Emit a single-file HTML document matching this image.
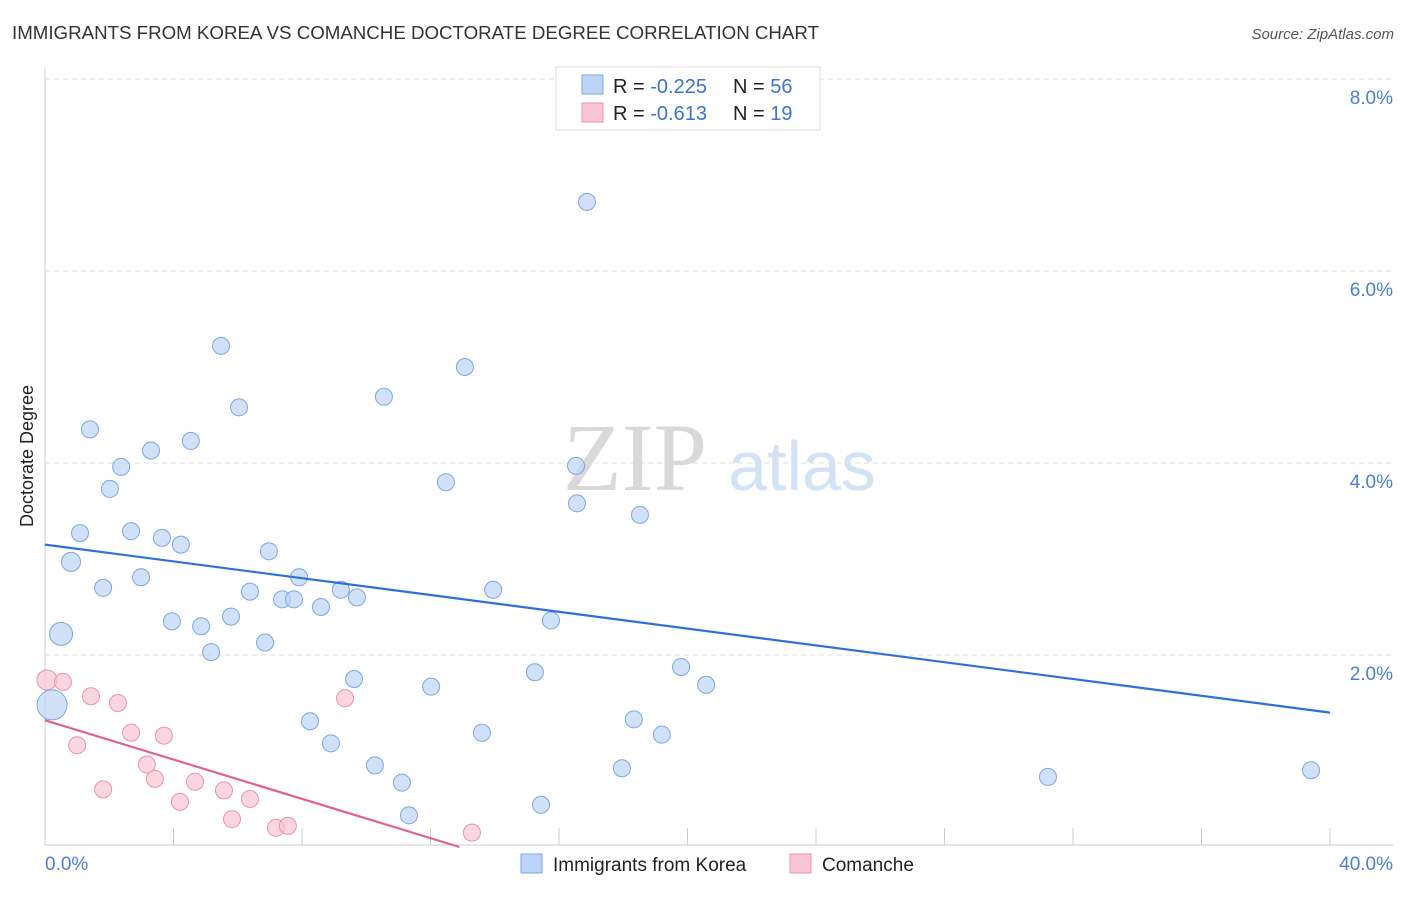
<!DOCTYPE html>
<html><head><meta charset="utf-8"><style>
body{margin:0;background:#fff;font-family:"Liberation Sans",sans-serif;}
</style></head><body>
<svg id="chart" width="1406" height="892" xmlns="http://www.w3.org/2000/svg" font-family="Liberation Sans, sans-serif">
<text x="12" y="39" font-size="18" fill="#333" textLength="807" lengthAdjust="spacingAndGlyphs">IMMIGRANTS FROM KOREA VS COMANCHE DOCTORATE DEGREE CORRELATION CHART</text>
<text x="1394" y="39" font-size="15" fill="#555" font-style="italic" text-anchor="end">Source: ZipAtlas.com</text>
<g id="grid"></g>
<g>
<text x="635" y="490" font-size="96" fill="#d9d9d9" style="font-family:'Liberation Serif',serif" text-anchor="middle">ZIP</text>
<text x="802" y="490" font-size="70" fill="#d3e2f5" text-anchor="middle">atlas</text>
</g>
<line x1="45" y1="68" x2="45" y2="845" stroke="#ccc"/>
<line x1="45" y1="845" x2="1393" y2="845" stroke="#ccc"/>
<text x="33" y="456" font-size="18" fill="#222" text-anchor="middle" transform="rotate(-90 33 456)">Doctorate Degree</text>
<text x="45" y="870" font-size="19" fill="#4a7fd6">0.0%</text>
<text x="1393" y="870" font-size="19" fill="#4a7fd6" text-anchor="end">40.0%</text>
<g id="marks"></g>
<g>
<rect x="556" y="67" width="264" height="63" fill="#fff" stroke="#ddd"/>
<rect x="582" y="75" width="21" height="19" fill="#bcd4f5" stroke="#7ea6e3"/>
<rect x="582" y="103" width="21" height="19" fill="#f9c5d4" stroke="#e993ad"/>
<text x="613" y="93" font-size="20" fill="#222">R = <tspan fill="#3b74d4">-0.225</tspan><tspan x="733">N = </tspan><tspan fill="#3b74d4">56</tspan></text>
<text x="613" y="120" font-size="20" fill="#222">R = <tspan fill="#3b74d4">-0.613</tspan><tspan x="733">N = </tspan><tspan fill="#3b74d4"> 19</tspan></text>
</g>
<g>
<rect x="521" y="854" width="21" height="19" fill="#bcd4f5" stroke="#7ea6e3"/>
<text x="553" y="871" font-size="19" fill="#222">Immigrants from Korea</text>
<rect x="790" y="854" width="21" height="19" fill="#f9c5d4" stroke="#e993ad"/>
<text x="822" y="871" font-size="19" fill="#222">Comanche</text>
</g>
</svg>
<script>
const yTicks=[2,4,6,8];
const yTickLabels=["2.0%","4.0%","6.0%","8.0%"];
const koreaX=[16.87,5.48,13.07,6.04,10.55,1.40,4.54,3.30,2.37,16.53,12.48,2.02,16.56,18.52,1.09,2.68,3.64,4.23,6.97,0.81,2.99,7.91,1.81,9.21,13.95,6.38,9.71,7.38,7.75,8.59,3.95,5.79,4.86,15.75,0.50,6.85,5.17,19.8,15.25,9.62,20.58,12.02,0.22,8.25,18.33,13.6,19.2,8.9,10.27,17.96,11.11,31.22,39.41,15.44,11.33];
const koreaY=[6.72,5.22,5.0,4.58,4.69,4.35,4.23,4.13,3.96,3.97,3.80,3.73,3.58,3.46,3.27,3.29,3.22,3.15,3.08,2.97,2.81,2.81,2.70,2.68,2.68,2.66,2.60,2.58,2.58,2.50,2.35,2.40,2.30,2.36,2.22,2.13,2.03,1.875,1.82,1.75,1.69,1.67,1.48,1.31,1.33,1.19,1.17,1.08,0.85,0.82,0.67,0.73,0.80,0.44,0.33];
const koreaR=[8.5,8.5,8.5,8.5,8.5,8.5,8.5,8.5,8.5,8.5,8.5,8.5,8.5,8.5,8.5,8.5,8.5,8.5,8.5,9.5,8.5,8.5,8.5,8.5,8.5,8.5,8.5,8.5,8.5,8.5,8.5,8.5,8.5,8.5,11.5,8.5,8.5,8.5,8.5,8.5,8.5,8.5,15,8.5,8.5,8.5,8.5,8.5,8.5,8.5,8.5,8.5,8.5,8.5,8.5];
const comX=[0.06,0.56,1.43,2.27,9.34,1.0,2.68,3.70,3.17,3.42,4.67,1.81,5.57,4.20,6.38,5.82,7.19,7.56,13.29];
const comY=[1.74,1.72,1.57,1.50,1.55,1.06,1.19,1.16,0.86,0.71,0.68,0.60,0.59,0.47,0.50,0.29,0.20,0.22,0.15];
const koreaTrend=[3.15,1.40];
const comTrend=[1.32,0.0,12.9];
const xs=v=>45+v/40*1285;
const ys=v=>847-v*96;
const NS="http://www.w3.org/2000/svg";
const grid=document.getElementById('grid'),marks=document.getElementById('marks');
function mk(tag,attrs,parent){const e=document.createElementNS(NS,tag);for(const k in attrs)e.setAttribute(k,attrs[k]);parent.appendChild(e);return e;}
yTicks.forEach((t,i)=>{
 const l=mk('line',{x1:45,x2:1393,y1:ys(t),y2:ys(t),stroke:'#ddd','stroke-dasharray':'5,4'},grid);
 
 
 const tx=mk('text',{x:1393,y:ys(t)+25,'font-size':19,fill:'#4a7fd6','text-anchor':'end'},grid);
 tx.textContent=yTickLabels[i];
 
 
});
for(let i=0;i<=10;i++){
 const t=mk('line',{x1:xs(i*4),x2:xs(i*4),y1:828,y2:845,stroke:'#ccc'},grid);
 
 
}
comX.forEach((x,i)=>{
 const c=mk('circle',{cx:xs(x),cy:ys(comY[i]),r:i==0?10:8.5,fill:'#f9c5d4','fill-opacity':0.7,stroke:'#e993ad','stroke-width':1},marks);
 
 
});
koreaX.forEach((x,i)=>{
 const c=mk('circle',{cx:xs(x),cy:ys(koreaY[i]),r:koreaR[i],fill:'#bcd4f5','fill-opacity':0.7,stroke:'#7ea6e3','stroke-width':1},marks);
 
 
});
const t1=mk('line',{x1:xs(0),y1:ys(koreaTrend[0]),x2:xs(40),y2:ys(koreaTrend[1]),stroke:'#2f6fd8','stroke-width':2.2},marks);


const t2=mk('line',{x1:xs(0),y1:ys(comTrend[0]),x2:xs(comTrend[2]),y2:ys(comTrend[1]),stroke:'#e0628e','stroke-width':2.2},marks);


</script>
</body></html>
